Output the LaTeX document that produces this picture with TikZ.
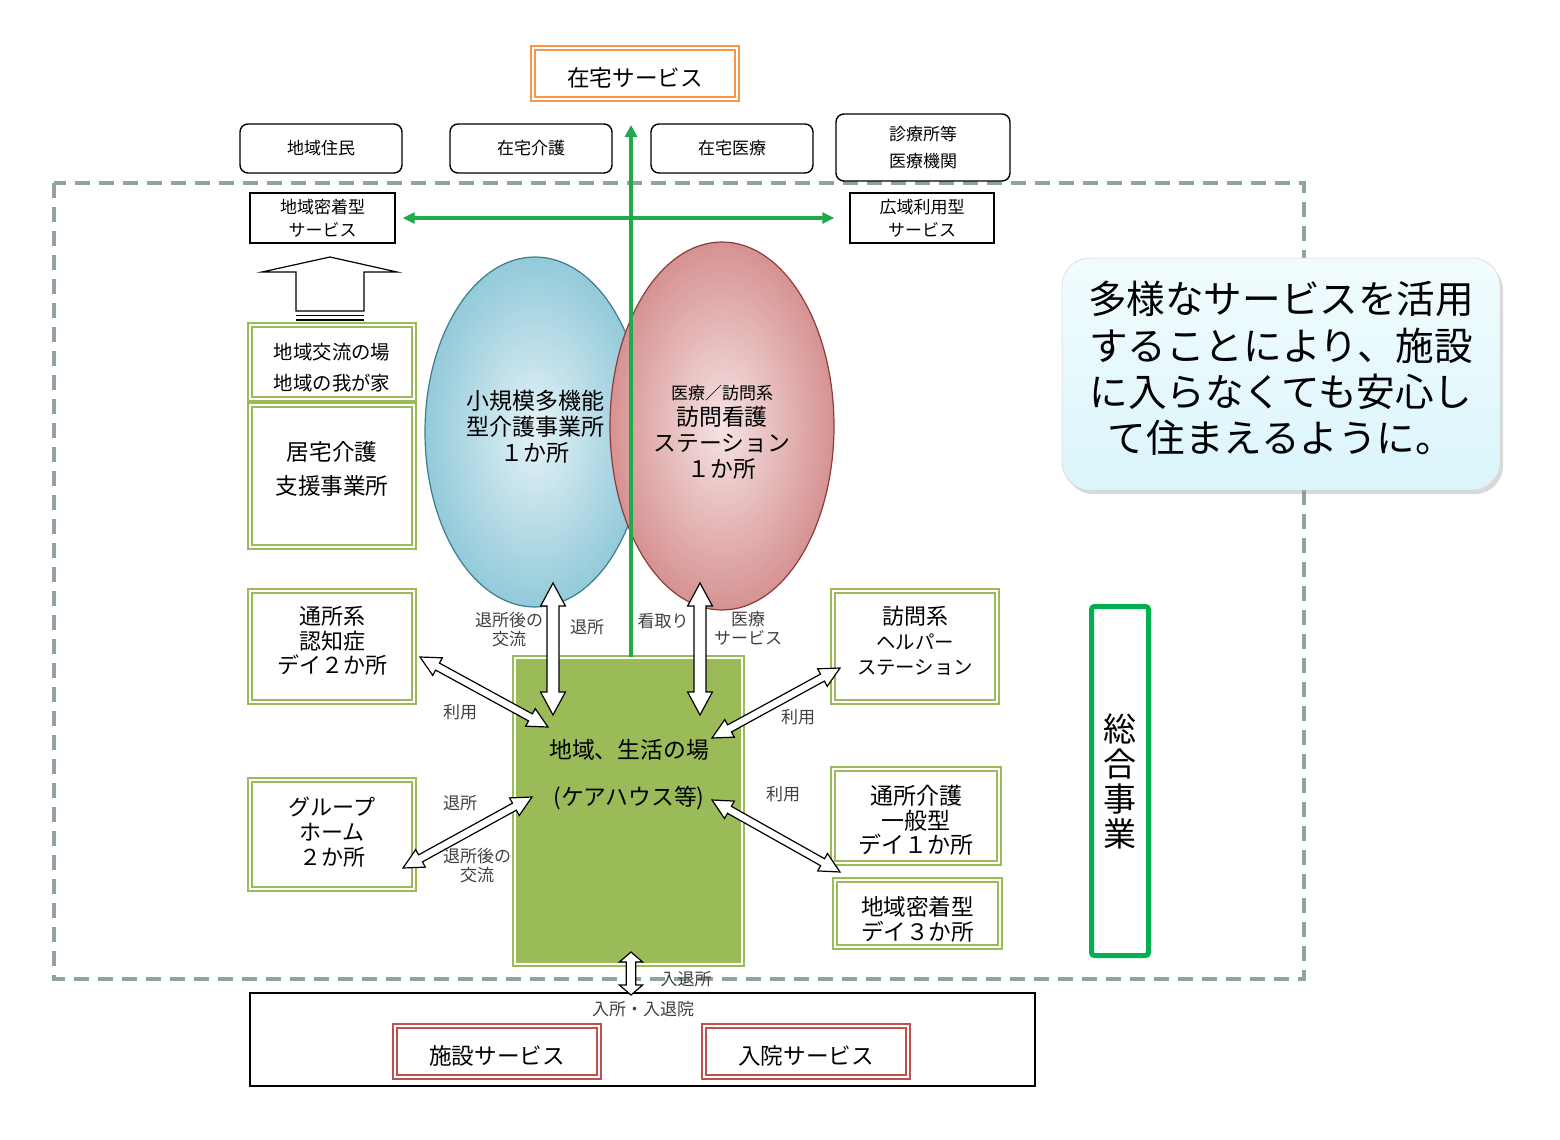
\documentclass[tikz,border=0pt]{standalone}
\usepackage{fontspec}
\setmainfont{Noto Sans CJK JP}
\usetikzlibrary{arrows.meta,calc,shapes.geometric,shadows}

\definecolor{olivegreen}{HTML}{9BBB59}
\definecolor{arrowgreen}{HTML}{1FAA4C}
\definecolor{sogogreen}{HTML}{00B050}
\definecolor{accorange}{HTML}{F79646}
\definecolor{accred}{HTML}{C0504D}
\definecolor{framegray}{HTML}{8FA3A3}
\definecolor{bluein}{HTML}{E4F2F6}
\definecolor{blueout}{HTML}{93CADA}
\definecolor{blueedge}{HTML}{3E7C8E}
\definecolor{redin}{HTML}{F6E3E3}
\definecolor{redout}{HTML}{D69292}
\definecolor{rededge}{HTML}{8E3B3B}
\definecolor{calltop}{HTML}{F2FCFE}
\definecolor{callbot}{HTML}{DAF5FB}
\definecolor{labelgray}{HTML}{404040}

% hollow double arrow: shaft half-width, head half-width, head length, from, to
\newcommand{\hollowarrow}[5]{%
  \path[draw=black, fill=white, line width=0.6pt, line join=miter]
    let \p1=(#4), \p2=(#5),
        \n1={atan2(\y2-\y1,\x2-\x1)}, \n2={veclen(\x2-\x1,\y2-\y1)} in
    [shift={(\p1)}, rotate=\n1]
    (0pt,0pt) -- (#3,#2) -- (#3,#1) -- (\n2-#3,#1) -- (\n2-#3,#2) -- (\n2+0pt,0pt)
    -- (\n2-#3,-#2) -- (\n2-#3,-#1) -- (#3,-#1) -- (#3,-#2) -- cycle;
}

\begin{document}
\begin{tikzpicture}[x=0.5pt, y=-0.5pt,
  every node/.style={inner sep=0pt, align=center},
  dblbox/.style={draw=#1, line width=1.2pt, double=white, double distance=0.8pt, fill=white},
  thinbox/.style={draw=black, line width=0.7pt, fill=white},
  roundbox/.style={thinbox, rounded corners=4pt},
  greenarr/.style={draw=arrowgreen, line width=1.7pt},
  lbl/.style={font=\fontsize{8.5}{9.5}\selectfont, text=labelgray},
  sfont/.style={font=\fontsize{8.5}{11.5}\selectfont},
  mfont/.style={font=\fontsize{11.3}{12.3}\selectfont}]
  \useasboundingbox (0,0) rectangle (1560,1140);

  %================= Dashed area =================
  \draw[framegray, line width=1.7pt, dash pattern=on 7.5pt off 4.5pt] (54,183) rectangle (1304,979);

  %================= Top row =================
  \node[dblbox=accorange, mfont, minimum width=102pt, minimum height=25.5pt] (zaitaku) at (635,73.5) {\\[1.7pt]在宅サービス};
  \node[roundbox, sfont, minimum width=81pt, minimum height=24.5pt] (jumin) at (321,148.5) {地域住民};
  \node[roundbox, sfont, minimum width=81pt, minimum height=24.5pt] (kaigo) at (531,148.5) {在宅介護};
  \node[roundbox, sfont, minimum width=81pt, minimum height=24.5pt] (iryo) at (732,148.5) {在宅医療};
  \node[roundbox, sfont, minimum width=87pt, minimum height=33.5pt] (shinryo) at (923,147.5) {診療所等\\[2pt]医療機関};
  \node[thinbox, sfont, minimum width=72.5pt, minimum height=25pt] (mitchaku) at (322.5,218) {地域密着型\\サービス};
  \node[thinbox, sfont, minimum width=72pt, minimum height=25pt] (koiki) at (922,218) {広域利用型\\サービス};

  %================= Left column =================
  \draw[black, line width=0.6pt, fill=white] (296,311) -- (296,272) -- (262,272) -- (330,257)
    -- (397,272) -- (364,272) -- (364,311) -- cycle;
  \draw[black, line width=0.6pt] (296,315.5) -- (364,315.5) (296,320) -- (364,320);
  \node[dblbox=olivegreen, font=\fontsize{9.7}{15.5}\selectfont, minimum width=82pt, minimum height=37pt] (koryu) at (332,362) {\\[-2pt]地域交流の場\\地域の我が家};
  \node[dblbox=olivegreen, font=\fontsize{11.3}{17}\selectfont, minimum width=82pt, minimum height=71pt] (kyotaku) at (332,476) {居宅介護\\支援事業所\\[-8.5pt]};
  \node[dblbox=olivegreen, font=\fontsize{11}{12.25}\selectfont, minimum width=82pt, minimum height=55.5pt] (tsusho) at (332,646.5) {通所系\\認知症\\デイ２か所\\[-5.75pt]};
  \node[dblbox=olivegreen, font=\fontsize{11}{12.5}\selectfont, minimum width=82pt, minimum height=54.5pt] (group) at (332,834.5) {グループ\\ホーム\\２か所\\[-9.5pt]};

  %================= Ellipses =================
  \node[ellipse, draw=blueedge, line width=0.6pt, inner color=bluein, outer color=blueout,
    minimum width=110pt, minimum height=175pt, font=\fontsize{11.5}{13}\selectfont] (shokibo) at (535,432)
    {小規模多機能\\型介護事業所\\１か所\\[-7pt]};
  \node[ellipse, draw=rededge, line width=0.6pt, inner color=redin, outer color=redout,
    minimum width=112pt, minimum height=184pt, font=\fontsize{11.4}{13}\selectfont] (houkan) at (722,426)
    {\\{\fontsize{8.5}{10}\selectfont 医療／訪問系}\\訪問看護\\ステーション\\１か所};

  %================= Green axes =================
  \coordinate (gtop) at (631,125);
  \node[dblbox=olivegreen, fill=olivegreen, minimum width=113.5pt, minimum height=153pt] (carehouse) at (628.5,811) {};
  \draw[greenarr, -{Triangle[length=6pt,width=6pt]}] (gtop |- carehouse.north) -- (gtop);
  \draw[greenarr, {Triangle[length=6pt,width=5.5pt]}-{Triangle[length=6pt,width=5.5pt]}]
    ([xshift=3.5pt]mitchaku.east) -- ([xshift=-7.5pt]koiki.west);
  \node[font=\fontsize{11.4}{13.5}\selectfont] (chtext) at (629,775) {地域、生活の場\\[10pt](ケアハウス等)};

  %================= Right column =================
  \node[dblbox=olivegreen, font=\fontsize{11}{12.5}\selectfont, minimum width=82pt, minimum height=55.5pt] (houmon) at (915,646.5)
    {訪問系\\{\fontsize{9.7}{12}\selectfont ヘルパー}\\{\fontsize{9.7}{12}\selectfont ステーション}\\[-6pt]};
  \node[dblbox=olivegreen, font=\fontsize{11.5}{12.25}\selectfont, minimum width=83pt, minimum height=47pt] (ippan) at (916,816) {\\[1.8pt]通所介護\\一般型\\デイ１か所};
  \node[dblbox=olivegreen, font=\fontsize{11.3}{12.5}\selectfont, minimum width=82.5pt, minimum height=33.5pt] (dei3) at (917.5,913.5) {\\[2.5pt]地域密着型\\デイ３か所};
  \node[draw=sogogreen, line width=2.5pt, rounded corners=1.5pt, minimum width=28.5pt, minimum height=174.5pt,
    font=\fontsize{16.5}{17.5}\selectfont] (sogo) at (1120,781) {総\\合\\事\\業};
  \node[rounded corners=14pt, top color=calltop, bottom color=callbot, draw=gray!25, line width=0.4pt,
    drop shadow={shadow xshift=1.5pt, shadow yshift=-2pt, opacity=0.3},
    minimum width=219pt, minimum height=116pt, font=\fontsize{19.3}{23.1}\selectfont] (msg) at (1281,374)
    {多様なサービスを活用\\することにより、施設\\に入らなくても安心し\\て住まえるように。\\[-16pt]};

  %================= Bottom =================
  \node[thinbox, minimum width=392.5pt, minimum height=46.5pt] (nyusho) at (642.5,1039.5) {};
  \node[lbl] (nyushoLbl) at (643,1009) {入所・入退院};
  \node[dblbox=accred, mfont, minimum width=102pt, minimum height=25.5pt] (shisetsu) at (497,1051.5) {\\[1.7pt]施設サービス};
  \node[dblbox=accred, mfont, minimum width=102pt, minimum height=25.5pt] (nyuin) at (806,1051.5) {\\[1.7pt]入院サービス};

  %================= Hollow arrows =================
  \coordinate (shoA) at (553,583);  \coordinate (shoB) at (553,715);
  \coordinate (kanA) at (700,583);  \coordinate (kanB) at (700,715);
  \coordinate (tsuA) at (420,657);  \coordinate (tsuB) at (548,727);
  \coordinate (helA) at (840,668);  \coordinate (helB) at (712,738);
  \coordinate (grpA) at (403,868);  \coordinate (grpB) at (532,797);
  \coordinate (deiA) at (840,872);  \coordinate (deiB) at (712,800);
  \coordinate (nyuA) at (631,952);  \coordinate (nyuB) at (631,995);
  \hollowarrow{3pt}{6.2pt}{11.5pt}{shoA}{shoB}
  \hollowarrow{3pt}{6.2pt}{11.5pt}{kanA}{kanB}
  \hollowarrow{2pt}{5pt}{10pt}{tsuA}{tsuB}
  \hollowarrow{2pt}{5pt}{10pt}{helA}{helB}
  \hollowarrow{2pt}{5pt}{10pt}{grpA}{grpB}
  \hollowarrow{2pt}{5pt}{10pt}{deiA}{deiB}
  \hollowarrow{2.4pt}{5.8pt}{5pt}{nyuA}{nyuB}

  %================= Arrow labels =================
  \node[lbl] (l1) at (509,630) {退所後の\\交流};
  \node[lbl] (l2) at (587,627) {退所};
  \node[lbl] (l3) at (663,621) {看取り};
  \node[lbl] (l4) at (748,628) {医療\\サービス};
  \node[lbl] (l5) at (460,712) {利用};
  \node[lbl] (l6) at (798,717) {利用};
  \node[lbl] (l7) at (783,794) {利用};
  \node[lbl] (l8) at (460,803) {退所};
  \node[lbl] (l9) at (477,866) {退所後の\\交流};
  \node[lbl] (l10) at (686,979) {入退所};

\end{tikzpicture}
\end{document}
